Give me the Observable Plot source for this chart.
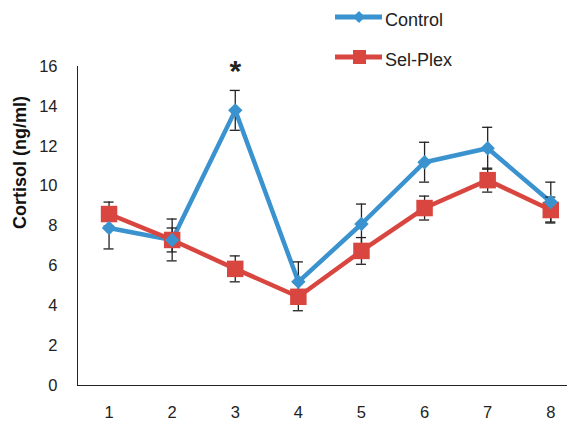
<!DOCTYPE html>
<html><head><meta charset="utf-8">
<script src="https://cdn.jsdelivr.net/npm/d3@7"></script>
<script src="https://cdn.jsdelivr.net/npm/@observablehq/plot@0.6"></script>
<style>
body{margin:0;background:#fff;font-family:"Liberation Sans",Arial,sans-serif;}
#wrap{position:relative;width:567px;height:423px;}
#legend{position:absolute;left:334px;top:7px;font-size:18px;color:#222;}
.item{display:flex;align-items:center;height:26px;margin-bottom:14px;}
.item svg{margin-right:2px;margin-top:-6px;}
</style></head>
<body><div id="wrap"><div id="legend"></div></div>
<script>
const weeks = [1,2,3,4,5,6,7,8];
const controlMean = [7.9, 7.3, 13.8, 5.2, 8.1, 11.2, 11.9, 9.2];
const controlSE   = [1.05, 1.05, 1.0, 1.0, 1.0, 1.0, 1.05, 1.0];
const selplexMean = [8.6, 7.3, 5.85, 4.45, 6.75, 8.9, 10.3, 8.8];
const selplexSE   = [0.6, 0.6, 0.65, 0.7, 0.67, 0.6, 0.6, 0.65];
const seriesNames = ["Control", "Sel-Plex"];
const colors = ["#3a93cf", "#d9463f"];
const yLabel = "Cortisol (ng/ml)";
const sigWeek = [3];

const rows = [];
weeks.forEach((w,i)=>{
  rows.push({s:"Control", x:w, y:controlMean[i], se:controlSE[i]});
  rows.push({s:"Sel-Plex", x:w, y:selplexMean[i], se:selplexSE[i]});
});
const ctrl = rows.filter(d=>d.s==="Control");
const sel = rows.filter(d=>d.s==="Sel-Plex");
const cap = 0.08;

const chart = Plot.plot({
  width: 567, height: 423,
  marginLeft: 77, marginRight: 0, marginTop: 66, marginBottom: 38,
  style: {fontFamily: '"Liberation Sans", Arial, sans-serif', fontSize: "16.5px", color: "#222", background: "transparent"},
  x: {domain: [0.5, 8.265], axis: null},
  y: {domain: [0, 16], axis: null},
  marks: [
    Plot.axisY({ticks: [0,2,4,6,8,10,12,14,16], tickSize: 0, tickPadding: 20, label: null, fontSize: 16.5}),
    Plot.axisX({ticks: weeks, tickSize: 0, tickPadding: 21, label: null, fontSize: 16.5, tickFormat: d=>String(d)}),
    Plot.frame({anchor: "left", stroke: "#222"}),
    Plot.frame({anchor: "bottom", stroke: "#222"}),
    Plot.text([yLabel], {frameAnchor: "left", rotate: -90, dx: -57, dy: 3, fontWeight: "bold", fontSize: 18, fill: "#111"}),
    Plot.line(ctrl, {x: "x", y: "y", stroke: colors[0], strokeWidth: 4.5}),
    Plot.line(sel, {x: "x", y: "y", stroke: colors[1], strokeWidth: 4.5}),
    Plot.ruleX(rows, {x: "x", y1: d=>d.y-d.se, y2: d=>d.y+d.se, stroke: "#222", strokeWidth: 1.3}),
    Plot.ruleY(rows, {y: d=>d.y+d.se, x1: d=>d.x-cap, x2: d=>d.x+cap, stroke: "#222", strokeWidth: 1.3}),
    Plot.ruleY(rows, {y: d=>d.y-d.se, x1: d=>d.x-cap, x2: d=>d.x+cap, stroke: "#222", strokeWidth: 1.3}),
    Plot.dot(sel, {x: "x", y: "y", symbol: "square", r: 9.3, fill: colors[1], stroke: "none"}),
    Plot.dot(ctrl, {x: "x", y: "y", symbol: "diamond2", r: 6.5, fill: colors[0], stroke: "none"}),
    Plot.text(sigWeek, {x: d=>d, y: 16, text: ()=>"*", fontSize: 30, fontWeight: "bold", fill: "#222", dy: 5})
  ]
});
document.getElementById("wrap").prepend(chart);

const legend = document.getElementById("legend");
seriesNames.forEach((name,i)=>{
  const item = document.createElement("div");
  item.className = "item";
  const marker = i===0
    ? `<polygon points="25,6 31,12 25,18 19,12" fill="${colors[0]}"/>`
    : `<rect x="19" y="5" width="13" height="14" fill="${colors[1]}"/>`;
  item.innerHTML = `<svg width="49" height="24"><line x1="1" y1="12" x2="48" y2="12" stroke="${colors[i]}" stroke-width="5"/>${marker}</svg><span>${name}</span>`;
  legend.appendChild(item);
});
chart.style.position = "absolute";
chart.style.left = "0"; chart.style.top = "0";
</script></body></html>
